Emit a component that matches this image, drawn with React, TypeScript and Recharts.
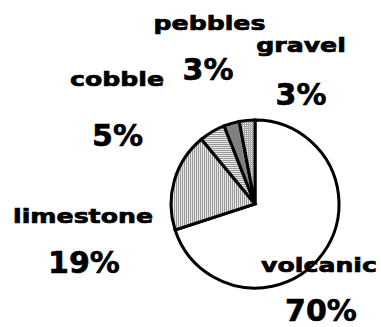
import React from "react";
import { PieChart, Pie, Cell } from "recharts";

const categories = ["volcanic", "limestone", "cobble", "pebbles", "gravel"];
const percents = [70, 19, 5, 3, 3];

const data = categories.map((name, i) => ({ name, value: percents[i] }));

const FILLS: Record<string, string> = {
  volcanic: "#ffffff",
  limestone: "url(#patVert)",
  cobble: "url(#patHoriz)",
  pebbles: "#808080",
  gravel: "url(#patGrid)",
};

// label placement offsets from pie centre (style config)
const LABEL_OFFSETS: Record<string, { nx: number; ny: number; px: number; py: number }> = {
  volcanic: { nx: 64, ny: 68, px: 66, py: 117 },
  limestone: { nx: -172, ny: 19, px: -171, py: 69 },
  cobble: { nx: -138, ny: -118, px: -137.5, py: -58 },
  pebbles: { nx: -45.5, ny: -174, px: -47, py: -124 },
  gravel: { nx: 46, ny: -152, px: 46, py: -99 },
};

const FONT = "'DejaVu Sans', sans-serif";

const renderLabel = (props: any) => {
  const { cx, cy, name, value } = props;
  const o = LABEL_OFFSETS[name];
  if (!o) return null;
  return (
    <g key={name}>
      <text
        transform={`translate(${cx + o.nx} ${cy + o.ny}) scale(1.26 1)`}
        textAnchor="middle"
        fontFamily={FONT}
        fontWeight="bold"
        fontSize={20}
        fill="#000"
        stroke="#000"
        strokeWidth={0.7}
      >
        {name}
      </text>
      <text
        x={cx + o.px}
        y={cy + o.py}
        textAnchor="middle"
        fontFamily={FONT}
        fontWeight="bold"
        fontSize={30}
        fill="#000"
        stroke="#000"
        strokeWidth={0.6}
      >
        {`${value}%`}
      </text>
    </g>
  );
};

export default function App() {
  return (
    <div style={{ position: "absolute", left: 0, top: 0, background: "#fff" }}>
      <PieChart width={381} height={327} margin={{ top: 0, right: 0, bottom: 0, left: 0 }}>
        <defs>
          <pattern id="patVert" width="2" height="2" patternUnits="userSpaceOnUse">
            <rect x="0" y="0" width="2" height="2" fill="#e6e6e6" />
            <rect x="0" y="0" width="1" height="2" fill="#9a9a9a" />
          </pattern>
          <pattern id="patHoriz" width="2" height="2" patternUnits="userSpaceOnUse">
            <rect x="0" y="0" width="2" height="2" fill="#e6e6e6" />
            <rect x="0" y="0" width="2" height="1" fill="#9a9a9a" />
          </pattern>
          <pattern id="patGrid" width="2" height="2" patternUnits="userSpaceOnUse">
            <rect x="0" y="0" width="2" height="2" fill="#ececec" />
            <rect x="0" y="0" width="1" height="2" fill="#a8a8a8" />
            <rect x="0" y="0" width="2" height="1" fill="#a8a8a8" />
          </pattern>
        </defs>
        <Pie
          data={data}
          dataKey="value"
          nameKey="name"
          cx={255}
          cy={204}
          outerRadius={84}
          startAngle={90}
          endAngle={-270}
          stroke="#000"
          strokeWidth={3}
          label={renderLabel}
          labelLine={false}
          isAnimationActive={false}
        >
          {data.map((d) => (
            <Cell key={d.name} fill={FILLS[d.name]} stroke="#000" strokeWidth={3} />
          ))}
        </Pie>
      </PieChart>
    </div>
  );
}
